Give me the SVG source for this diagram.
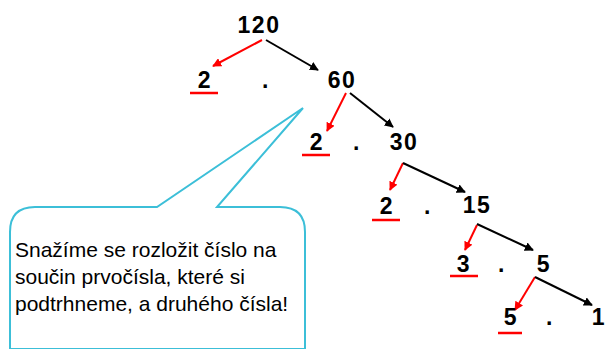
<svg xmlns="http://www.w3.org/2000/svg" width="606" height="349" viewBox="0 0 606 349">
<defs>
<marker id="ar" viewBox="0 0 10 10" refX="9" refY="5" markerWidth="4.5" markerHeight="4.5" orient="auto" markerUnits="strokeWidth"><path d="M0,0 L10,5 L0,10 z" fill="#ff0000"/></marker>
<marker id="ab" viewBox="0 0 10 10" refX="9" refY="5" markerWidth="4.5" markerHeight="4.5" orient="auto" markerUnits="strokeWidth"><path d="M0,0 L10,5 L0,10 z" fill="#000"/></marker>
</defs>
<style>
.n{font-family:"Liberation Sans",Arial,sans-serif;font-weight:bold;font-size:23px;fill:#000;text-anchor:middle;letter-spacing:1.5px}
.r{stroke:#ff0000;stroke-width:2;fill:none;marker-end:url(#ar)}
.b{stroke:#000;stroke-width:2;fill:none;marker-end:url(#ab)}
.u{stroke:#ff0000;stroke-width:2.5}
.t{font-family:"Liberation Sans",Arial,sans-serif;font-size:21px;fill:#000}
</style>
<rect width="606" height="349" fill="#fff"/>
<g id="callout">
<path d="M35,207 L157,207 L303,108 L217,207 L280,207 Q305,207 305,232 L305,349 L10,349 L10,232 Q10,207 35,207 Z" fill="#fff" stroke="#3cbfd8" stroke-width="2"/>
<text class="t" x="15" y="257">Snažíme se rozložit číslo na</text>
<text class="t" x="15" y="284">součin prvočísla, které si</text>
<text class="t" x="15" y="311">podtrhneme, a druhého čísla!</text>
</g>
<g id="connectors">
<line class="r" x1="262" y1="40" x2="213" y2="66"/>
<line class="b" x1="266" y1="40" x2="318" y2="70"/>
<line class="r" x1="346" y1="93" x2="327" y2="131"/>
<line class="b" x1="350" y1="93" x2="393" y2="127"/>
<line class="r" x1="403" y1="163" x2="390" y2="190"/>
<line class="b" x1="403" y1="163" x2="465" y2="192"/>
<line class="r" x1="477" y1="225" x2="465" y2="250"/>
<line class="b" x1="477" y1="224" x2="533" y2="250"/>
<line class="r" x1="535" y1="277" x2="515" y2="310"/>
<line class="b" x1="535" y1="277" x2="592" y2="305"/>
</g>
<g id="n120"><text class="n" x="259" y="33">120</text></g>
<g id="row1">
<text class="n" x="205" y="88">2</text><line class="u" x1="190" y1="93" x2="218" y2="93"/>
<text class="n" x="266" y="88">.</text>
<text class="n" x="342" y="88">60</text>
</g>
<g id="row2">
<text class="n" x="317" y="150">2</text><line class="u" x1="302" y1="155" x2="330" y2="155"/>
<text class="n" x="357" y="150">.</text>
<text class="n" x="404" y="150">30</text>
</g>
<g id="row3">
<text class="n" x="387" y="214">2</text><line class="u" x1="372" y1="220" x2="400" y2="220"/>
<text class="n" x="428" y="214">.</text>
<text class="n" x="477" y="213">15</text>
</g>
<g id="row4">
<text class="n" x="464" y="272">3</text><line class="u" x1="450" y1="276" x2="478" y2="276"/>
<text class="n" x="502" y="272">.</text>
<text class="n" x="544" y="272">5</text>
</g>
<g id="row5">
<text class="n" x="511" y="325">5</text><line class="u" x1="498" y1="333" x2="522" y2="333"/>
<text class="n" x="550" y="325">.</text>
<text class="n" x="599" y="325">1</text>
</g>
</svg>
